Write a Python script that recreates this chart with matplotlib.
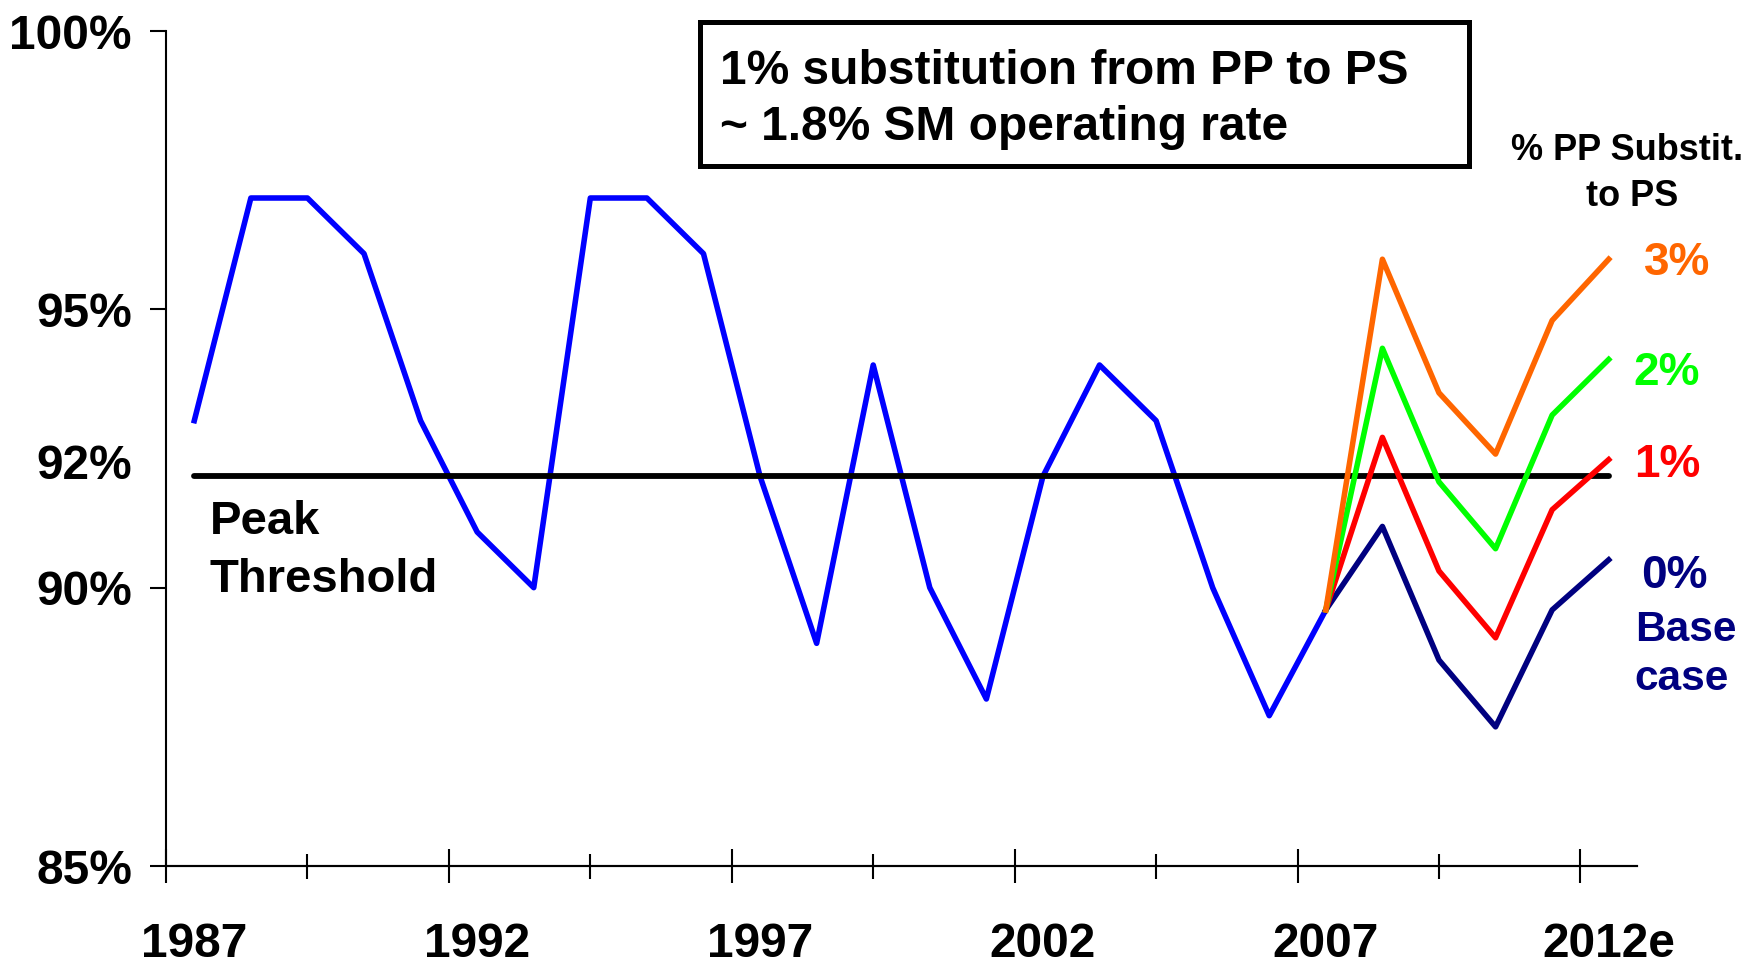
import matplotlib
matplotlib.use("Agg")
import matplotlib.pyplot as plt
import numpy as np
from matplotlib.patches import Rectangle

plt.rcParams["font.family"] = "Liberation Sans"
plt.rcParams["font.weight"] = "bold"

# ---------------------------------------------------------------- data
years = [str(y) for y in range(1987, 2012)] + ["2012e"]
history = [93, 97, 97, 96, 93, 91, 90, 97, 97, 96, 92, 89, 94, 90, 88,
           92, 94, 93, 90, 87.7, 89.6]          # 1987 .. 2007
base_case = [89.6, 91.1, 88.7, 87.5, 89.6, 90.5]  # 2007 .. 2012e
subst_1 = [89.6, 92.7, 90.3, 89.1, 91.4, 92.3]
subst_2 = [89.6, 94.3, 91.9, 90.7, 93.1, 94.1]
subst_3 = [89.6, 95.9, 93.5, 92.4, 94.8, 95.9]
threshold = 92
y_ticks = [85, 90, 95, 100]

BLUE, NAVY, RED, GREEN, ORANGE = "#0000FF", "#000080", "#FF0000", "#00FF00", "#FF6600"

W, H = 1758, 965
fig = plt.figure(figsize=(W / 100, H / 100), dpi=100)
ax = fig.add_axes([166 / W, 1 - 866 / H, (1637 - 166) / W, (866 - 31) / H])

n = len(years)
x_hist = np.arange(len(history))
x_proj = np.arange(len(history) - 1, len(history) - 1 + len(base_case))

ax.plot(x_hist, history, color=BLUE, lw=4, zorder=2)
ax.plot([0, n - 1], [threshold, threshold], color="black", lw=4.2,
        solid_capstyle="round", zorder=3)
for vals, col in [(base_case, NAVY), (subst_1, RED), (subst_2, GREEN), (subst_3, ORANGE)]:
    ax.plot(x_proj, vals, color=col, lw=4, zorder=4)

# ---------------------------------------------------------------- axes
ax.set_xlim(-0.5, n - 0.5)
ax.set_ylim(85, 100)
for s in ("top", "right"):
    ax.spines[s].set_visible(False)
for s in ("left", "bottom"):
    ax.spines[s].set_linewidth(1.5)

lab_idx = list(range(0, n, 5))
ax.set_xticks(lab_idx, [years[i] for i in lab_idx])
ax.tick_params(axis="x", which="major", length=0, pad=40, labelsize=34.5)
ax.set_xticks(np.arange(-0.5, n - 1, 5), minor=True)
ax.tick_params(axis="x", which="minor", direction="inout", length=24, width=1.5)
sec = ax.secondary_xaxis(0)
sec.set_xticks(np.arange(2, n, 5))
sec.tick_params(direction="inout", length=18, width=1.5, labelbottom=False)
sec.spines["bottom"].set_linewidth(1.5)

ax.set_yticks(y_ticks, [f"{v}%" for v in y_ticks])
ax.tick_params(axis="y", direction="out", length=11.5, width=1.5, pad=13, labelsize=34.5)
ax.annotate(f"{threshold}%", xy=(0, threshold + 0.18), xycoords=("axes fraction", "data"),
            xytext=(-24.5, 0), textcoords="offset points", ha="right", va="center",
            fontsize=34.5, annotation_clip=False)

# ---------------------------------------------------------------- labels
fig.text(210 / W, 1 - 534 / H, "Peak", fontsize=34, va="baseline")
fig.text(210 / W, 1 - 592 / H, "Threshold", fontsize=34, va="baseline")

fig.patches.append(Rectangle((700 / W, 1 - 166 / H), (1469 - 700) / W, (166 - 22) / H,
                             transform=fig.transFigure, facecolor="white",
                             edgecolor="black", linewidth=3.6, zorder=5))
fig.text(720 / W, 1 - 84 / H, "1% substitution from PP to PS", fontsize=34.5,
         va="baseline", zorder=6)
fig.text(720 / W, 1 - 140 / H, "~ 1.8% SM operating rate", fontsize=34.5,
         va="baseline", zorder=6)

fig.text(1627 / W, 1 - 151 / H, "% PP Substit.", fontsize=26, ha="center", va="center")
fig.text(1632 / W, 1 - 196 / H, "to PS", fontsize=26, ha="center", va="center")

fig.text(1677 / W, 1 - 263 / H, "3%", color=ORANGE, fontsize=33, ha="center", va="center")
fig.text(1667 / W, 1 - 373 / H, "2%", color=GREEN, fontsize=33, ha="center", va="center")
fig.text(1667 / W, 1 - 465 / H, "1%", color=RED, fontsize=33, ha="center", va="center")
fig.text(1674 / W, 1 - 576 / H, "0%", color=NAVY, fontsize=33, ha="center", va="center")
fig.text(1686 / W, 1 - 630 / H, "Base", color=NAVY, fontsize=30.5, ha="center", va="center")
fig.text(1682 / W, 1 - 679 / H, "case", color=NAVY, fontsize=30.5, ha="center", va="center")

fig.savefig("out.png", dpi=100, facecolor="white")
